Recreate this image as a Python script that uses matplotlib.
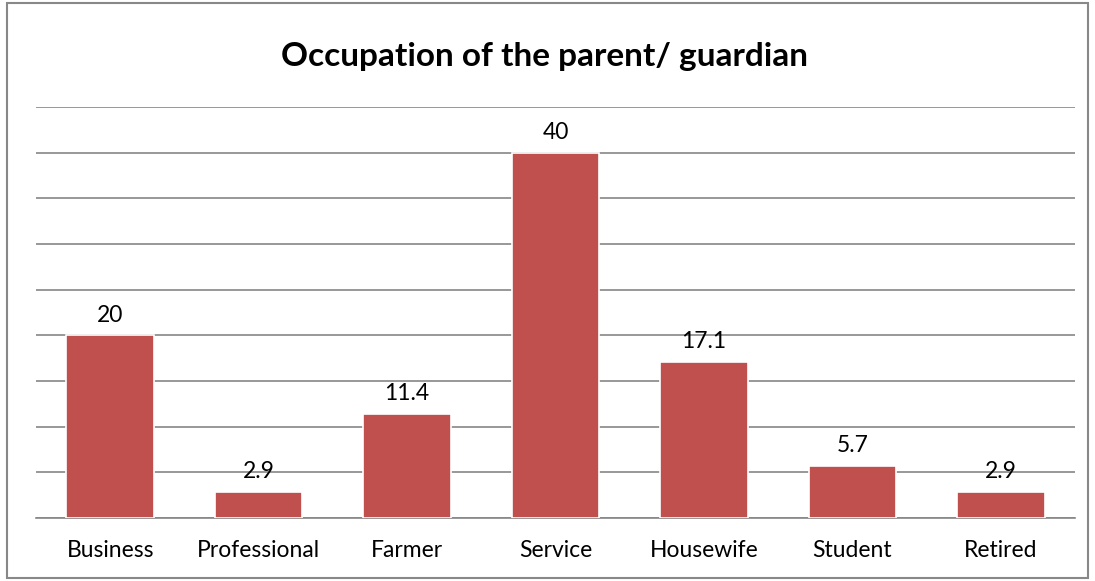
import numpy as np
import matplotlib.pyplot as plt
from matplotlib.patches import Rectangle

categories = ["Business", "Professional", "Farmer", "Service", "Housewife", "Student", "Retired"]
values = [20, 2.9, 11.4, 40, 17.1, 5.7, 2.9]
labels = ["20", "2.9", "11.4", "40", "17.1", "5.7", "2.9"]

plt.rcParams["font.family"] = ["Lato", "DejaVu Sans"]

fig = plt.figure(figsize=(10.95, 5.81), dpi=100)
ax = fig.add_axes([0.0329, 0.1084, 0.9488, 0.7074])

x = np.arange(len(categories))
bars = ax.bar(x, values, width=0.59, color="#C0504D", edgecolor="white", linewidth=1.2, zorder=3)

for xi, v, lab in zip(x, values, labels):
    ax.annotate(lab, (xi, v), xytext=(0, 7), textcoords="offset points",
                ha="center", va="bottom", fontsize=16.5, color="black", zorder=4)

ax.set_xlim(-0.5, len(categories) - 0.5)
ax.set_ylim(0, 45)
ax.set_yticks(np.arange(0, 46, 5))
ax.yaxis.grid(True, color="#868686", linewidth=1.2)
ax.set_axisbelow(True)
ax.tick_params(axis="y", left=False, labelleft=False)
ax.tick_params(axis="x", length=0, pad=16, labelsize=16.5)
ax.set_xticks(x)
ax.set_xticklabels(categories)
for s in ["top", "right", "left"]:
    ax.spines[s].set_visible(False)
ax.spines["bottom"].set_color("#868686")
ax.spines["bottom"].set_linewidth(1.2)

fig.text(0.4977, 0.903, "Occupation of the parent/ guardian", ha="center", va="center",
         fontsize=24, fontweight="bold")

fig.patches.append(Rectangle((0.006, 0.006), 0.988, 0.988, transform=fig.transFigure,
                             fill=False, edgecolor="#888888", linewidth=1.5))

fig.savefig("out.png", dpi=100)
